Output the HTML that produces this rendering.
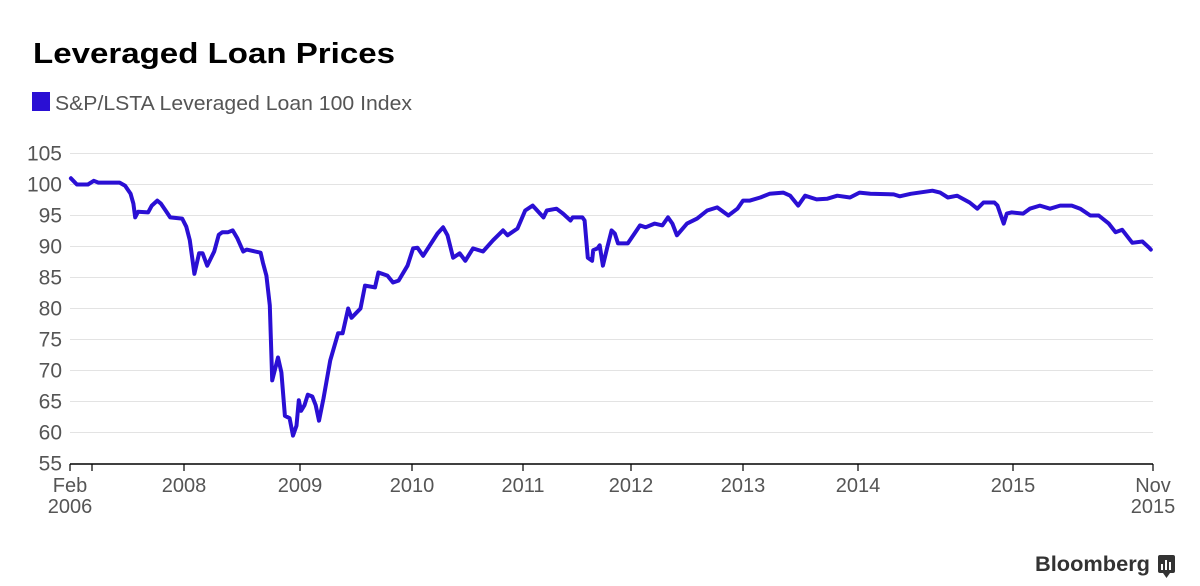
<!DOCTYPE html>
<html><head><meta charset="utf-8"><style>
html,body{margin:0;padding:0;background:#fff;}
svg{display:block;font-family:"Liberation Sans",sans-serif;}
</style></head><body>
<svg id="chart" width="1200" height="586" viewBox="0 0 1200 586" xmlns="http://www.w3.org/2000/svg">
<text x="33" y="63" font-size="29" font-weight="bold" fill="#000" textLength="362" lengthAdjust="spacingAndGlyphs">Leveraged Loan Prices</text>
<g>
<rect x="32" y="92" width="18" height="19" fill="#2a0fd4"/>
<text x="55" y="110" font-size="20" fill="#555" textLength="357" lengthAdjust="spacingAndGlyphs">S&amp;P/LSTA Leveraged Loan 100 Index</text>
</g>
<g id="grid"></g>
<g id="yaxis"></g>
<g id="xaxis"></g>
<g id="series"></g>
<g>
<text x="1035" y="571" font-size="21" font-weight="bold" fill="#333" textLength="115" lengthAdjust="spacingAndGlyphs">Bloomberg</text>
<rect x="1158" y="555" width="17" height="18" rx="2" fill="#333"/>
<polygon points="1163,573 1170,573 1166.5,578" fill="#333"/>
<rect x="1161" y="564" width="2" height="6" fill="#fff"/>
<rect x="1165" y="560" width="2" height="10" fill="#fff"/>
<rect x="1169" y="562" width="2" height="8" fill="#fff"/>
</g>
</svg>
<script>
// ---- data ----
const dates = [2006.12,2006.37,2006.83,2007.02,2007.07,2007.30,2007.36,2007.42,2007.45,2007.47,2007.50,2007.61,2007.65,2007.71,2007.75,2007.80,2007.85,2007.98,
2008.02,2008.05,2008.09,2008.13,2008.16,2008.20,2008.26,2008.30,2008.33,2008.38,2008.42,2008.46,2008.51,2008.54,2008.66,2008.68,2008.71,2008.74,2008.76,2008.81,2008.84,2008.87,2008.91,2008.94,2008.97,2008.99,
2009.01,2009.04,2009.07,2009.11,2009.14,2009.17,2009.21,2009.27,2009.34,2009.38,2009.43,2009.46,2009.54,2009.58,2009.67,2009.70,2009.78,2009.83,2009.88,2009.96,
2010.01,2010.05,2010.10,2010.23,2010.28,2010.32,2010.37,2010.43,2010.48,2010.55,2010.64,2010.73,2010.82,2010.86,2010.95,
2011.02,2011.09,2011.19,2011.22,2011.31,2011.37,2011.44,2011.46,2011.55,2011.57,2011.60,2011.64,2011.65,2011.69,2011.71,2011.74,2011.78,2011.82,2011.85,2011.88,2011.97,
2012.08,2012.13,2012.21,2012.28,2012.33,2012.37,2012.41,2012.50,2012.59,2012.68,2012.77,2012.87,2012.95,
2013.00,2013.06,2013.15,2013.23,2013.35,2013.41,2013.48,2013.54,2013.64,2013.73,2013.82,2013.93,
2014.01,2014.08,2014.23,2014.27,2014.34,2014.48,2014.53,2014.58,2014.64,2014.72,2014.77,2014.81,2014.88,2014.90,2014.94,2014.96,2014.99,
2015.06,2015.10,2015.16,2015.22,2015.28,2015.35,2015.40,2015.46,2015.51,2015.57,2015.61,2015.65,2015.71,2015.77,2015.81,2015.82];
const values = [101.0,100.0,100.0,100.6,100.3,100.3,99.8,98.5,96.9,94.7,95.6,95.5,96.6,97.4,96.9,95.8,94.7,94.5,
93.2,91.0,85.6,88.9,88.9,86.9,89.2,91.9,92.3,92.3,92.6,91.3,89.2,89.5,89.0,87.4,85.3,80.5,68.4,72.1,69.7,62.7,62.3,59.5,61.1,65.2,
63.5,64.4,66.1,65.8,64.4,61.9,65.5,71.6,76.0,76.0,80.0,78.5,80.0,83.7,83.4,85.8,85.3,84.2,84.5,86.9,
89.7,89.8,88.5,92.1,93.1,91.8,88.2,88.9,87.7,89.7,89.2,91.0,92.6,91.8,92.9,
95.8,96.6,94.7,95.8,96.1,95.3,94.2,94.7,94.7,94.2,88.2,87.7,89.4,89.7,90.2,86.9,89.8,92.6,92.1,90.5,90.5,
93.4,93.1,93.7,93.4,94.7,93.7,91.8,93.7,94.5,95.8,96.3,95.0,96.1,
97.4,97.4,97.9,98.5,98.7,98.2,96.6,98.2,97.6,97.7,98.2,97.9,
98.7,98.5,98.4,98.1,98.5,99.0,98.7,97.9,98.2,97.1,96.1,97.1,97.1,96.6,93.7,95.3,95.5,
95.3,96.1,96.6,96.1,96.6,96.6,96.1,95.0,95.0,93.7,92.3,92.7,90.6,90.8,89.8,89.5];
const yTicks = [55,60,65,70,75,80,85,90,95,100,105];
const xTickDates = [2006.083,2007,2008,2009,2010,2011,2012,2013,2014,2015,2015.833];
const xTickLabels = [["Feb","2006"],[""],["2008"],["2009"],["2010"],["2011"],["2012"],["2013"],["2014"],["2015"],["Nov","2015"]];

// ---- axis config ----
const Y0 = 463.5, YPX = 6.2, YMIN = 55;
const xAnchorPx = [70,92,184,300,412,523,631,743,858,1013,1153];
function yScale(v){ return Y0 - (v - YMIN) * YPX; }
function xScale(d){
  const a = xTickDates;
  if (d <= a[0]) return xAnchorPx[0];
  for (let i = 0; i < a.length - 1; i++) {
    if (d <= a[i+1]) return xAnchorPx[i] + (d - a[i]) / (a[i+1] - a[i]) * (xAnchorPx[i+1] - xAnchorPx[i]);
  }
  return xAnchorPx[xAnchorPx.length-1];
}
const NS = "http://www.w3.org/2000/svg";
function mk(tag, attrs, parent){ const e = document.createElementNS(NS, tag); for (const k in attrs) e.setAttribute(k, attrs[k]); parent.appendChild(e); return e; }

const grid = document.getElementById('grid'), yaxis = document.getElementById('yaxis'), xaxis = document.getElementById('xaxis'), series = document.getElementById('series');
yTicks.forEach(v => {
  const y = yScale(v);
  if (v > YMIN) {
    const g = mk('line', {x1:70, x2:1153, y1:y, y2:y, stroke:'#e3e3e3', 'stroke-width':1}, grid);
    
    
  }
  const t = mk('text', {x:62, y:y+7, 'text-anchor':'end', 'font-size':21, fill:'#555'}, yaxis);
  
  
  t.textContent = v;
});
const ax = mk('line', {x1:70, x2:1153, y1:464, y2:464, stroke:'#000', 'stroke-width':1.5}, xaxis);


xTickDates.forEach((d, i) => {
  const x = xScale(d);
  const tk = mk('line', {x1:x, x2:x, y1:464, y2:471, stroke:'#000', 'stroke-width':1.2}, xaxis);
  
  
  xTickLabels[i].forEach((s, j) => {
    if (!s) return;
    const t = mk('text', {x:x, y:492 + j*21, 'text-anchor':'middle', 'font-size':20, fill:'#555'}, xaxis);
    
    
    t.textContent = s;
  });
});
const pts = dates.map((d, i) => xScale(d).toFixed(1) + ',' + yScale(values[i]).toFixed(1)).join(' ');
const line = mk('polyline', {points:pts, fill:'none', stroke:'#2a0fd4', 'stroke-width':4, 'stroke-linejoin':'round', 'stroke-linecap':'round'}, series);


</script>
</body></html>
